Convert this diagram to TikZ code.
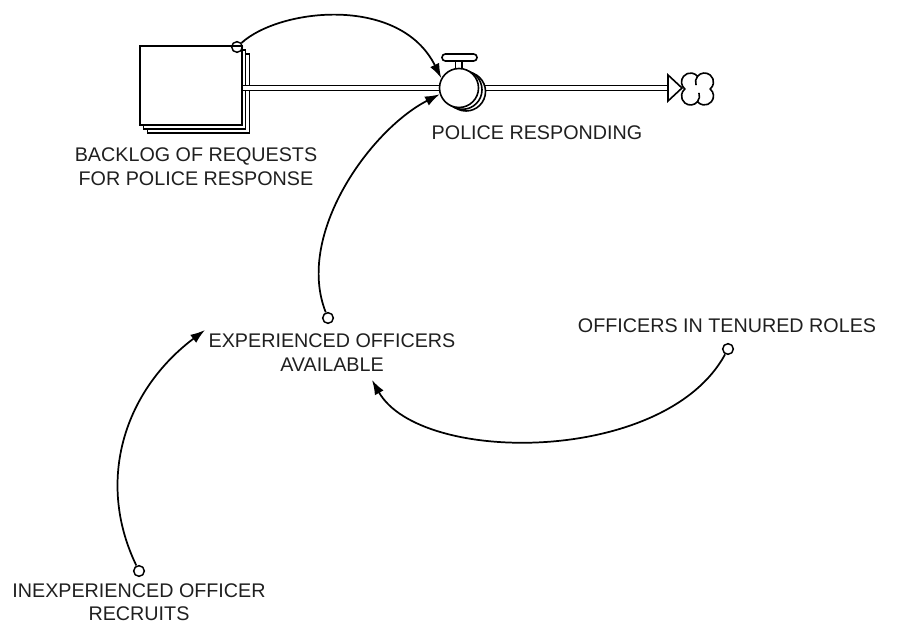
\documentclass[tikz,border=0pt]{standalone}
\usepackage{fontspec}
\setmainfont{Liberation Sans}
\usetikzlibrary{arrows.meta}
\begin{document}
\begin{tikzpicture}[x=0.75pt,y=-0.75pt,
  lbl/.style={font=\fontsize{14.8}{17.5}\selectfont, align=center, inner sep=0pt, anchor=north, text=black!88},
  conn/.style={draw, line width=1.3pt, -{Latex[length=11pt,width=7.5pt]}},
  src/.style={circle, draw, line width=1.1pt, minimum size=8pt, inner sep=0pt},
  part/.style={draw, line width=1.2pt, fill=white},
  stockbox/.style={part, rectangle, minimum width=76.5pt, minimum height=59.25pt, inner sep=0pt},
  valvebox/.style={part, circle, minimum size=29.25pt, inner sep=0pt},
  pipe/.style={draw, line width=1.15pt, double=white, double distance=2.6pt},
]
\useasboundingbox (0,0) rectangle (898,623);

% stock (stacked boxes)
\node[stockbox] (stock3) at (198.5,93.25) {};
\node[stockbox] (stock2) at (194.5,89.25) {};
\node[stockbox] (stock) at (191,85.5) {};

% flow pipes
\coordinate (vc) at (459,88);
\coordinate (tri) at (668,88);
\draw[pipe] (stock.east |- vc) -- (vc);
\draw[pipe] (vc) -- (tri);

% valve handle
\draw[part] (455.5,61) rectangle (462,69);
\draw[part, rounded corners=2.5pt] (442,54) rectangle (477,61);

% valve with shadows
\node[valvebox] (vs2) at (466,91.5) {};
\node[valvebox] (vs1) at (462.5,89.8) {};
\node[valvebox] (valve) at (vc) {};

% hollow arrowhead into cloud
\draw[part, line join=miter] (tri) ++(0,-13) -- ++(14,13) -- ++(-14,13) -- cycle;

% cloud
\coordinate (cloud) at (697.5,89);
\begin{scope}[shift={(cloud)}]
  \draw[line width=1.2pt, fill=white] (0,-12.66) arc[start angle=219, end angle=411, radius=9]
    arc[start angle=-51, end angle=141, radius=9]
    arc[start angle=39, end angle=231, radius=9]
    arc[start angle=129, end angle=321, radius=9] -- cycle;
  \draw[line width=1.2pt] (0,-12.66) arc[start angle=219, end angle=160, radius=9];
  \draw[line width=1.2pt] (0,12.66) arc[start angle=39, end angle=-20, radius=9];
\end{scope}

% labels
\node[lbl] (backlog) at (196,147.8) {BACKLOG OF REQUESTS\\FOR POLICE RESPONSE};
\node[lbl] (police) at (537,125.8) {POLICE RESPONDING};
\node[lbl] (exp) at (332,333.8) {EXPERIENCED OFFICERS\\AVAILABLE};
\node[lbl] (ten) at (727,318.8) {OFFICERS IN TENURED ROLES};
\node[lbl] (inexp) at (139,583.3) {INEXPERIENCED OFFICER\\RECRUITS};

% connector sources
\node[src] (c1) at (237,47) {};
\node[src] (c2) at (328,318) {};
\node[src] (c3) at (728,349) {};
\node[src] (c4) at (139,571) {};

\coordinate (expA) at (372,380);
\coordinate (expB) at (205,330);

% connectors
\draw[conn] (c1) .. controls (280,8) and (400,-5) .. (valve.151);
\draw[conn] (c2) .. controls (295,235) and (370,130) .. (valve.198);
\draw[conn] (c3) .. controls (665,465) and (420,465) .. (expA);
\draw[conn] (c4) .. controls (95,480) and (125,390) .. (expB);
\end{tikzpicture}
\end{document}
